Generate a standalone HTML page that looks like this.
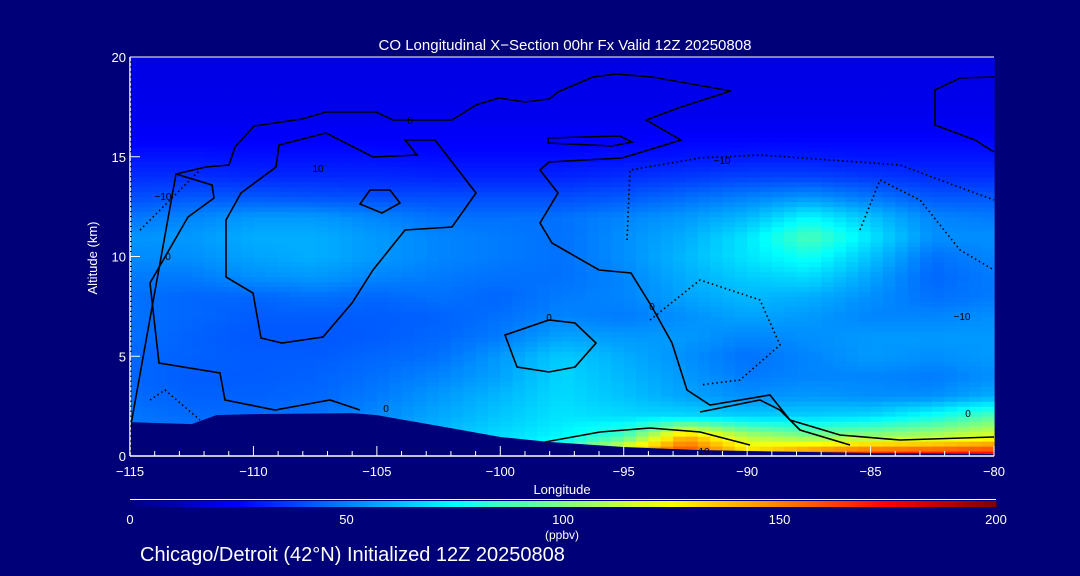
<!DOCTYPE html>
<html><head><meta charset="utf-8">
<style>
html,body{margin:0;padding:0;background:#000078;}
svg{display:block;font-family:"Liberation Sans",sans-serif;}
</style></head>
<body>
<svg id="chart" width="1080" height="576" viewBox="0 0 1080 576" xmlns="http://www.w3.org/2000/svg">
<rect width="1080" height="576" fill="#000078"/>
<g id="heat"></g>
<g id="terrain"></g>
<g id="contours" fill="none" stroke="#000" stroke-width="1.6">
  <path d="M130,430 L176,174 L206,167 L229,165 L235,147 L254,126 L302,119 L326,112 L376,112 L393,120 L452,120 L476,105 L499,98 L525,102 L549,99 L558,92 L593,77 L616,74 L652,77 L731,91 L681,107 L646,120 L681,140 L622,158 L549,162 L540,170 L558,193 L540,223 L552,243 L599,270 L631,273 L652,307 L672,343 L687,390 L710,405 L770,395 L790,420 L840,435 L900,440 L994,437"/>
  <path d="M176,174 L212,185 L214,198 L188,217 L150,283 L159,363 L220,373 L225,400 L275,410 L330,400 L360,410"/>
  <path d="M279,145 L326,133 L373,157 L417,155 L405,140 L435,140 L476,193 L452,227 L405,230 L373,270 L352,303 L323,337 L282,343 L261,338 L253,293 L226,277 L226,220 L241,193 L276,167 Z"/>
  <path d="M370,190 L390,190 L400,203 L382,213 L360,204 Z"/>
  <path d="M505,335 L549,320 L575,323 L596,343 L575,367 L549,372 L517,367 Z"/>
  <path d="M548,138 L620,136 L632,142 L612,146 L548,143 Z"/>
  <path d="M994,77 L960,78 L935,90 L935,125 L975,140 L994,152"/>
  <path d="M545,442 L600,432 L650,428 L700,432 L750,445 M700,412 L760,400 L780,410 L800,430 L850,445"/>
  <path stroke-dasharray="1.5,3" d="M627,240 L630,170 L700,158 L760,155 L830,160 L900,165 L940,180 L994,200 M650,320 L700,280 L760,300 L780,345 L740,380 L700,385 M860,230 L880,180 L920,200 L960,250 L994,270 M140,230 L170,200 L200,170 M150,400 L165,390 L200,420"/>
</g>
<g id="axes"></g>
<text x="565" y="50" fill="#fff" font-size="15" text-anchor="middle">CO Longitudinal X−Section 00hr  Fx Valid 12Z 20250808</text>
<text x="562" y="494" fill="#fff" font-size="13" text-anchor="middle">Longitude</text>
<text transform="translate(97,258) rotate(-90)" fill="#fff" font-size="13" text-anchor="middle">Altitude (km)</text>
<g id="cbar"></g>
<text x="562" y="539" fill="#fff" font-size="12" text-anchor="middle">(ppbv)</text>
<text x="140" y="561" fill="#fff" font-size="20">Chicago/Detroit (42°N) Initialized 12Z 20250808</text>
</svg>
<script>
const lons = [-115,-112.5,-110,-107.5,-105,-102.5,-100,-97.5,-95,-92.5,-90,-87.5,-85,-82.5,-80];
const alts = [0,1,2,3,4,5,6,7,8,9,10,11,12,13,14,15,16,17,18,19,20];
const row0 = [52,50,50,52,58,64,72,88,150,170,140,165,175,178,180];
const row1 = [50,48,48,50,55,62,68,74,88,140,110,100,105,110,120];
const row2 = [48,46,46,48,52,58,64,70,68,68,66,66,68,78,92];
const row3 = [46,44,44,45,49,55,61,68,63,57,53,55,53,53,59];
const row4 = [45,43,43,44,47,51,57,67,61,55,49,51,51,49,53];
const row5 = [45,44,43,43,45,47,55,65,59,53,47,51,55,53,55];
const row6 = [47,44,42,42,43,45,49,57,55,55,51,53,55,55,55];
const row7 = [47,45,43,43,43,44,47,51,49,53,57,55,51,51,53];
const row8 = [47,45,45,47,45,47,45,49,51,57,61,59,53,47,49];
const row9 = [49,49,53,55,51,49,47,47,51,59,65,68,57,45,49];
const row10 = [52,53,57,59,55,51,49,47,53,61,70,78,63,47,51];
const row11 = [54,55,59,59,55,51,49,47,53,59,70,90,70,53,53];
const row12 = [48,51,55,55,51,47,47,47,51,55,61,74,63,51,49];
const row13 = [40,42,42,41,40,40,40,40,42,46,50,54,48,42,42];
const row14 = [34,34,33,33,33,32,32,32,34,36,38,38,36,34,34];
const row15 = [29,29,28,28,28,27,27,27,28,29,30,30,29,29,29];
const row16 = [24,24,24,24,24,24,24,24,24,25,25,25,25,25,25];
const row17 = [22,22,22,22,22,22,22,22,22,22,22,22,22,22,22];
const row18 = [21,21,21,21,21,21,21,21,21,21,21,21,21,21,21];
const row19 = [20,20,20,20,20,20,20,20,20,20,20,20,20,20,20];
const row20 = [20,20,20,20,20,20,20,20,20,20,20,20,20,20,20];
const grid = [row0,row1,row2,row3,row4,row5,row6,row7,row8,row9,row10,row11,row12,row13,row14,row15,row16,row17,row18,row19,row20];
const terrainLon = [-115,-112.5,-111.5,-110,-106,-105,-102,-100,-98,-95,-92,-90,-85,-80];
const terrainAlt = [1.7,1.6,2.05,2.1,2.15,2.05,1.4,0.95,0.7,0.45,0.3,0.25,0.15,0.1];
const xTicks = [-115,-110,-105,-100,-95,-90,-85,-80];
const yTicks = [0,5,10,15,20];
const cbTicks = [0,50,100,150,200];

const X0=130,X1=994,Y0=456,Y1=57;
const xs = v => X0+(v+115)/35*(X1-X0);
const ys = a => Y0-a/20*(Y0-Y1);
const NS="http://www.w3.org/2000/svg";
function jet(v){
  const t=Math.max(0,Math.min(1,v/200));
  const stops=[[0,0,0,128],[0.125,0,0,255],[0.25,0,128,255],[0.375,0,255,255],[0.5,128,255,128],[0.625,255,255,0],[0.75,255,128,0],[0.875,255,0,0],[1,128,0,0]];
  for(let i=1;i<stops.length;i++){ if(t<=stops[i][0]){const a=stops[i-1],b=stops[i],f=(t-a[0])/(b[0]-a[0]);
    return `rgb(${Math.round(a[1]+(b[1]-a[1])*f)},${Math.round(a[2]+(b[2]-a[2])*f)},${Math.round(a[3]+(b[3]-a[3])*f)})`;}}
  return "rgb(128,0,0)";
}
function sample(lon,alt){
  let i=0; while(i<lons.length-2 && lon>lons[i+1]) i++;
  let j=0; while(j<alts.length-2 && alt>alts[j+1]) j++;
  const fx=(lon-lons[i])/(lons[i+1]-lons[i]), fy=(alt-alts[j])/(alts[j+1]-alts[j]);
  const a=grid[j][i],b=grid[j][i+1],c=grid[j+1][i],d=grid[j+1][i+1];
  return (a*(1-fx)+b*fx)*(1-fy)+(c*(1-fx)+d*fx)*fy;
}
const heat=document.getElementById('heat');
const dl=0.5, da=0.25;
for(let lon=-115;lon<-80;lon+=dl){
  for(let alt=0;alt<20;alt+=da){
    const v=sample(lon+dl/2,alt+da/2);
    const r=document.createElementNS(NS,'rect');
    r.setAttribute('x',xs(lon).toFixed(2)); r.setAttribute('y',ys(alt+da).toFixed(2));
    r.setAttribute('width',(xs(lon+dl)-xs(lon)+0.6).toFixed(2)); r.setAttribute('height',(ys(alt)-ys(alt+da)+0.6).toFixed(2));
    r.setAttribute('fill',jet(v));
    
    
    heat.appendChild(r);
  }
}
let d=`M${xs(-115)},${Y0+1} `;
terrainLon.forEach((l,k)=>{d+=`L${xs(l).toFixed(1)},${ys(terrainAlt[k]).toFixed(1)} `;});
d+=`L${xs(-80)},${Y0+1} Z`;
const tp=document.createElementNS(NS,'path');
tp.setAttribute('d',d); tp.setAttribute('fill','#000078');


document.getElementById('terrain').appendChild(tp);
const ax=document.getElementById('axes');
function line(x1,y1,x2,y2,c,w,name){const l=document.createElementNS(NS,'line');
  l.setAttribute('x1',x1);l.setAttribute('y1',y1);l.setAttribute('x2',x2);l.setAttribute('y2',y2);
  l.setAttribute('stroke',c);l.setAttribute('stroke-width',w);
  
  
  ax.appendChild(l);}
function text(x,y,s,anchor,size,name,parent){const t=document.createElementNS(NS,'text');
  t.setAttribute('x',x);t.setAttribute('y',y);t.setAttribute('fill','#fff');t.setAttribute('font-size',size);
  t.setAttribute('text-anchor',anchor);t.textContent=s;
  
  
  parent.appendChild(t);}
line(X0,Y0,X1,Y0,'#fff',1.5,'x-axis-line');
line(X0,Y0,X0,Y1,'#fff',1.5,'y-axis-line');
line(X0,Y1,X1,Y1,'#fff',1,'top-axis-line');
for(let l=-115;l<=-80;l++){ const big=(l%5===0); line(xs(l),Y0,xs(l),Y0-(big?10:5),'#fff',1,'x-tick'); }
for(let a=0;a<=20;a+=0.25){ line(X0,ys(a),X0+2,ys(a),'#000',1,'y-minor-tick'); }
yTicks.forEach(a=>{ line(X0,ys(a),X0+10,ys(a),'#fff',1,'y-tick'); text(X0-4,ys(a)+5,String(a),'end',13,'y-tick-label',ax); });
xTicks.forEach(l=>{ text(xs(l),Y0+20,String(l).replace('-','−'),'middle',13,'x-tick-label',ax); });
const cb=document.getElementById('cbar');
const cx0=130,cx1=996;
const cl=document.createElementNS(NS,'line');
cl.setAttribute('x1',cx0);cl.setAttribute('x2',cx1);cl.setAttribute('y1',499.5);cl.setAttribute('y2',499.5);cl.setAttribute('stroke','#fff');


cb.appendChild(cl);
for(let v=0;v<200;v+=1){
  const r=document.createElementNS(NS,'rect');
  r.setAttribute('x',(cx0+v/200*(cx1-cx0)).toFixed(2)); r.setAttribute('y',501);
  r.setAttribute('width',((cx1-cx0)/200+0.5).toFixed(2)); r.setAttribute('height',6);
  r.setAttribute('fill',jet(v+0.5));
  
  
  cb.appendChild(r);
}
cbTicks.forEach(v=>{ text(cx0+v/200*(cx1-cx0),524,String(v),'middle',13,'colorbar-tick-label',cb); });
const labels=[[318,172,'10'],[163,200,'−10'],[168,260,'0'],[549,321,'0'],[652,310,'0'],[722,164,'−10'],[962,320,'−10'],[968,417,'0'],[386,412,'0'],[704,455,'10'],[410,124,'0']];
labels.forEach(p=>{ const t=document.createElementNS(NS,'text');
  t.setAttribute('x',p[0]);t.setAttribute('y',p[1]);t.setAttribute('font-size',10);t.setAttribute('fill','#000');t.setAttribute('stroke','none');t.setAttribute('text-anchor','middle');t.textContent=p[2];
  
  
  document.getElementById('contours').appendChild(t); });
</script>
</body></html>
